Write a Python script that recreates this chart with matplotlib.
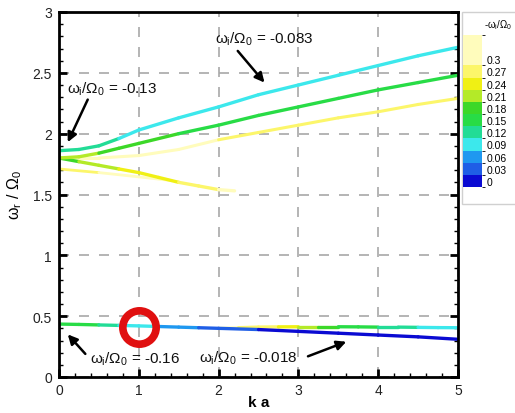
import numpy as np
import matplotlib
matplotlib.use('Agg')
import matplotlib.pyplot as plt
from matplotlib.collections import LineCollection
from matplotlib.colors import ListedColormap, BoundaryNorm
from matplotlib.ticker import MultipleLocator

plt.rcParams['font.family'] = ['Liberation Sans', 'DejaVu Sans']
plt.rcParams['mathtext.fontset'] = 'custom'
plt.rcParams['mathtext.rm'] = 'Liberation Sans'
plt.rcParams['mathtext.it'] = 'Liberation Sans'

# colour levels of -w_i/W_0
levels = [0, 0.03, 0.06, 0.09, 0.12, 0.15, 0.18, 0.21, 0.24, 0.27, 0.3]
level_labels = ['0', '0.03', '0.06', '0.09', '0.12', '0.15', '0.18', '0.21', '0.24', '0.27', '0.3']
level_colors = ['#0a0ad2', '#1f5ee6', '#1f98f0', '#3ce8ec', '#22dc96', '#28dc46',
                '#3cd828', '#b4ea28', '#f0f014', '#fcf66a', '#fffcbc']

# branches: ka, w_r/W_0, -w_i/W_0
ka_a = [0, 0.25, 0.5, 0.75, 1, 1.5, 2, 2.5, 3, 3.5, 4, 4.5, 5]
wr_a = [1.86, 1.87, 1.90, 1.96, 2.03, 2.13, 2.22, 2.32, 2.40, 2.48, 2.56, 2.64, 2.71]
wi_a = [0.13, 0.125, 0.115, 0.10, 0.09, 0.085, 0.083, 0.083, 0.083, 0.083, 0.083, 0.083, 0.083]

ka_b = [0, 0.25, 0.5, 0.75, 1, 1.5, 2, 2.5, 3, 3.5, 4, 4.5, 5]
wr_b = [1.80, 1.81, 1.84, 1.88, 1.92, 2.00, 2.07, 2.15, 2.22, 2.29, 2.36, 2.42, 2.48]
wi_b = [0.21, 0.20, 0.19, 0.18, 0.17, 0.16, 0.16, 0.16, 0.16, 0.16, 0.16, 0.16, 0.16]

ka_c = [0, 0.5, 1, 1.5, 2, 2.5, 3, 3.5, 4, 4.5, 5]
wr_c = [1.80, 1.80, 1.82, 1.87, 1.95, 2.01, 2.07, 2.13, 2.18, 2.24, 2.29]
wi_c = [0.3, 0.3, 0.3, 0.3, 0.28, 0.27, 0.26, 0.26, 0.26, 0.26, 0.26]

ka_d = [0, 0.25, 0.5, 0.75, 1, 1.25, 1.5, 1.75, 2, 2.2]
wr_d = [1.80, 1.77, 1.74, 1.71, 1.68, 1.64, 1.60, 1.57, 1.54, 1.53]
wi_d = [0.17, 0.19, 0.21, 0.22, 0.23, 0.24, 0.25, 0.27, 0.29, 0.3]

ka_e = [0, 0.5, 1, 1.4]
wr_e = [1.71, 1.68, 1.645, 1.615]
wi_e = [0.27, 0.28, 0.29, 0.3]

ka_f = [0, 0.25, 0.5, 0.75, 1, 1.25, 1.5, 1.75, 2, 2.5, 3, 3.5, 4, 4.5, 5]
wr_f = [0.435, 0.432, 0.428, 0.424, 0.42, 0.415, 0.41, 0.405, 0.40, 0.39, 0.375, 0.36, 0.345, 0.33, 0.31]
wi_f = [0.16, 0.15, 0.13, 0.11, 0.09, 0.08, 0.06, 0.04, 0.03, 0.01, 0.005, 0.0, 0.0, 0.0, 0.0]

ka_g = [2.0, 2.25, 2.5, 2.75, 3, 3.25, 3.5, 3.75, 4, 4.25, 4.5, 4.75, 5]
wr_g = [0.40, 0.405, 0.41, 0.412, 0.413, 0.413, 0.413, 0.412, 0.41, 0.41, 0.408, 0.406, 0.405]
wi_g = [0.3, 0.29, 0.27, 0.24, 0.21, 0.18, 0.16, 0.15, 0.14, 0.12, 0.1, 0.09, 0.085]

# annotation labels: text, text position, arrow tail, arrow tip
notes = [
    (r'$\omega_i/\Omega_0$ = -0.083', (1.95, 2.78), (2.24, 2.68), (2.575, 2.42)),
    (r'$\omega_i/\Omega_0$ = -0.13', (0.10, 2.37), (0.36, 2.28), (0.11, 1.93)),
    (r'$\omega_i/\Omega_0$ = -0.16', (0.39, 0.15), (0.33, 0.19), (0.11, 0.35)),
    (r'$\omega_i/\Omega_0$ = -0.018', (1.76, 0.165), (3.12, 0.17), (3.6, 0.29)),
]

cmap = ListedColormap(level_colors)
bounds = [-0.015] + [l + 0.015 for l in levels[:-1]] + [0.36]
norm = BoundaryNorm(bounds, cmap.N)

fig = plt.figure(figsize=(5.15, 4.14), dpi=100)
ax = fig.add_axes([59/515, 1 - 378/414, 399/515, 365/414])


def colored_line(x, y, c, lw=2.4):
    pts = np.column_stack([x, y]).reshape(-1, 1, 2)
    segs = np.concatenate([pts[:-1], pts[1:]], axis=1)
    cvals = 0.5 * (np.array(c[:-1]) + np.array(c[1:]))
    lc = LineCollection(segs, cmap=cmap, norm=norm, linewidths=lw, capstyle='round')
    lc.set_array(cvals)
    ax.add_collection(lc)
    return lc


colored_line(ka_e, wr_e, wi_e, 2.0)
colored_line(ka_c, wr_c, wi_c, 2.2)
colored_line(ka_d, wr_d, wi_d)
colored_line(ka_b, wr_b, wi_b)
colored_line(ka_a, wr_a, wi_a)
colored_line(ka_g, wr_g, wi_g)
colored_line(ka_f, wr_f, wi_f)

ax.set_xlim(0, 5)
ax.set_ylim(0, 3)
ax.set_xticks([0, 1, 2, 3, 4, 5])
ax.set_xticklabels(['0', '1', '2', '3', '4', '5'])
ax.set_yticks([0, 0.5, 1, 1.5, 2, 2.5, 3])
ax.set_yticklabels(['0', '0.5', '1', '1.5', '2', '2.5', '3'])
ax.xaxis.set_minor_locator(MultipleLocator(0.2))
ax.yaxis.set_minor_locator(MultipleLocator(0.1))
ax.tick_params(which='major', direction='in', length=6, width=2, labelsize=10,
               right=True, pad=5, colors='black', labelcolor='#222222')
ax.tick_params(axis='x', which='major', pad=4)
ax.tick_params(which='minor', direction='in', length=3, width=1, right=True)
for s in ax.spines.values():
    s.set_linewidth(2)
ax.grid(True, which='major', linestyle=(0, (6, 6)), color='#a8a8a8', linewidth=1.2)
ax.set_axisbelow(True)

ax.set_xlabel('k a', fontsize=11, fontweight='bold', labelpad=-1)
ax.set_ylabel(r'$\omega_r\ /\ \Omega_0$', fontsize=11.5, labelpad=6)

arr = dict(arrowstyle='-|>', color='black', lw=1.8, mutation_scale=14, shrinkA=0, shrinkB=0)
for txt, pos, tail, tip in notes:
    ax.text(pos[0], pos[1], txt, fontsize=11, color='#111111', ha='left', va='center')
    ax.annotate('', xy=tip, xytext=tail, arrowprops=arr)

# red circle marker
ax.plot([1.0], [0.41], 'o', ms=24, mfc='none', mec='#e01010', mew=5.5, zorder=5)

# colour legend
frame = plt.Rectangle((462/515, 1 - 205/414), 60/515, 192/414, transform=fig.transFigure,
                      facecolor='white', edgecolor='#d0d0d0', lw=1, zorder=-1)
fig.patches.append(frame)
cax = fig.add_axes([463/515, 1 - 188/414, 19/515, 152/414])
cb = fig.colorbar(plt.cm.ScalarMappable(norm=norm, cmap=cmap), cax=cax,
                  boundaries=bounds, spacing='proportional', ticks=levels)
cb.outline.set_visible(False)
cb.ax.set_yticklabels(level_labels)
cb.ax.tick_params(length=0, labelsize=7.5, pad=3)
fig.text(484/515, 1 - 25/414, r'-$\omega_i$/$\Omega_0$', fontsize=7, ha='left', va='center')

fig.savefig('out.png', dpi=100)
